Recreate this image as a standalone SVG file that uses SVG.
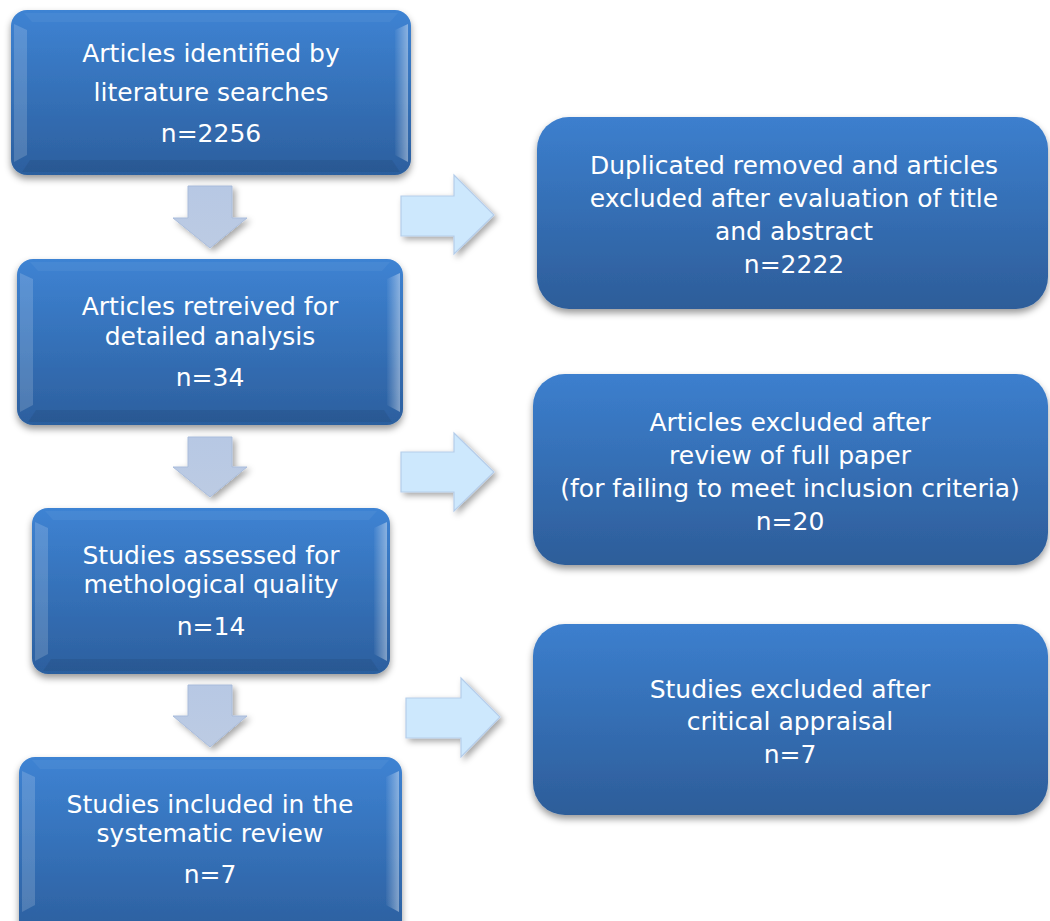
<svg xmlns="http://www.w3.org/2000/svg" width="1050" height="921" viewBox="0 0 1050 921">
<defs>
<linearGradient id="gL" x1="0" y1="0" x2="0" y2="1">
<stop offset="0" stop-color="#3e83d3"/>
<stop offset="1" stop-color="#2c5f9e"/>
</linearGradient>
<linearGradient id="gR" x1="0" y1="0" x2="0" y2="1">
<stop offset="0" stop-color="#3c7fce"/>
<stop offset="1" stop-color="#2d5d99"/>
</linearGradient>
<linearGradient id="gBevR" x1="0" y1="0" x2="1" y2="0">
<stop offset="0" stop-color="#ffffff" stop-opacity="0.03"/>
<stop offset="1" stop-color="#ffffff" stop-opacity="0.4"/>
</linearGradient>
<linearGradient id="gDown" x1="0" y1="0" x2="0" y2="1">
<stop offset="0" stop-color="#b7c8e4"/>
<stop offset="1" stop-color="#bccbe3"/>
</linearGradient>
<filter id="sh" x="-10%" y="-10%" width="125%" height="130%">
<feDropShadow dx="0" dy="4" stdDeviation="3.5" flood-color="#000" flood-opacity="0.4"/>
</filter>
<filter id="shA" x="-20%" y="-20%" width="150%" height="150%">
<feDropShadow dx="3" dy="3" stdDeviation="3" flood-color="#000" flood-opacity="0.35"/>
</filter>
</defs>
<style>
text{font-family:"DejaVu Sans","Liberation Sans",sans-serif;fill:#ffffff;text-anchor:middle}
.tl{font-size:25px}
.tr{font-size:25px}
.boxL{fill:url(#gL)}
.boxR{fill:url(#gR)}
.bl{fill:#ffffff;fill-opacity:0.16}
.br{fill:url(#gBevR)}
.bb{fill:#000000;fill-opacity:0.07}
.bt{fill:#ffffff;fill-opacity:0.05}
.down{fill:url(#gDown);stroke:#a9bcdb;stroke-width:1}
.right{fill:#cde8fd;stroke:#b5cdea;stroke-width:1.2}
</style>
<rect width="1050" height="921" fill="#ffffff"/>

<g id="connectors">
<path class="down" filter="url(#shA)" d="M188,186 H232 V218 H247 L210,248 L173,218 H188 Z"/>
<path class="down" filter="url(#shA)" d="M188,437 H232 V467 H247 L210,497 L173,467 H188 Z"/>
<path class="down" filter="url(#shA)" d="M188,685 H232 V716 H247 L210,747 L173,716 H188 Z"/>
<path class="right" filter="url(#shA)" d="M401,196 H454 V175 L494,215 L454,254 V236 H401 Z"/>
<path class="right" filter="url(#shA)" d="M401,452 H454 V433 L494,472 L454,511 V492 H401 Z"/>
<path class="right" filter="url(#shA)" d="M406,698 H461 V678 L500,717 L461,757 V738 H406 Z"/>
</g>

<g id="node1">
<rect class="boxL" filter="url(#sh)" x="11" y="10" width="400" height="165" rx="16"/>
<polygon class="bt" points="24,13 398,13 390,22 32,22"/>
<polygon class="bl" points="14,24 27,30 27,155 14,162"/>
<polygon class="br" points="408,24 395,30 395,155 408,162"/>
<polygon class="bb" points="30,160 392,160 400,172 22,172"/>
<text class="tl" x="211" y="62">Articles identified by</text>
<text class="tl" x="211" y="101">literature searches</text>
<text class="tl" x="211" y="142">n=2256</text>
</g>

<g id="node2">
<rect class="boxL" filter="url(#sh)" x="17" y="259" width="386" height="166" rx="16"/>
<polygon class="bt" points="30,262 390,262 382,271 38,271"/>
<polygon class="bl" points="20,273 33,279 33,405 20,412"/>
<polygon class="br" points="400,273 387,279 387,405 400,412"/>
<polygon class="bb" points="36,410 384,410 392,422 28,422"/>
<text class="tl" x="210" y="315">Articles retreived for</text>
<text class="tl" x="210" y="345">detailed analysis</text>
<text class="tl" x="210" y="386">n=34</text>
</g>

<g id="node3">
<rect class="boxL" filter="url(#sh)" x="32" y="508" width="358" height="166" rx="16"/>
<polygon class="bt" points="45,511 377,511 369,520 53,520"/>
<polygon class="bl" points="35,522 48,528 48,654 35,661"/>
<polygon class="br" points="387,522 374,528 374,654 387,661"/>
<polygon class="bb" points="51,659 371,659 379,671 43,671"/>
<text class="tl" x="211" y="564">Studies assessed for</text>
<text class="tl" x="211" y="593">methological quality</text>
<text class="tl" x="211" y="635">n=14</text>
</g>

<g id="node4">
<rect class="boxL" filter="url(#sh)" x="19" y="757" width="383" height="180" rx="16"/>
<polygon class="bt" points="32,760 389,760 381,769 40,769"/>
<polygon class="bl" points="22,771 35,777 35,905 22,912"/>
<polygon class="br" points="399,771 386,777 386,905 399,912"/>
<text class="tl" x="210" y="813">Studies included in the</text>
<text class="tl" x="210" y="842">systematic review</text>
<text class="tl" x="210" y="883">n=7</text>
</g>

<g id="node5">
<rect class="boxR" filter="url(#sh)" x="537" y="117" width="511" height="192" rx="32"/>
<text class="tr" x="794" y="174">Duplicated removed and articles</text>
<text class="tr" x="794" y="207">excluded after evaluation of title</text>
<text class="tr" x="794" y="240">and abstract</text>
<text class="tr" x="794" y="273">n=2222</text>
</g>

<g id="node6">
<rect class="boxR" filter="url(#sh)" x="533" y="374" width="515" height="191" rx="32"/>
<text class="tr" x="790" y="431">Articles excluded after</text>
<text class="tr" x="790" y="464">review of full paper</text>
<text class="tr" x="790" y="497">(for failing to meet inclusion criteria)</text>
<text class="tr" x="790" y="530">n=20</text>
</g>

<g id="node7">
<rect class="boxR" filter="url(#sh)" x="533" y="624" width="515" height="191" rx="32"/>
<text class="tr" x="790" y="698">Studies excluded after</text>
<text class="tr" x="790" y="730">critical appraisal</text>
<text class="tr" x="790" y="763">n=7</text>
</g>
</svg>
